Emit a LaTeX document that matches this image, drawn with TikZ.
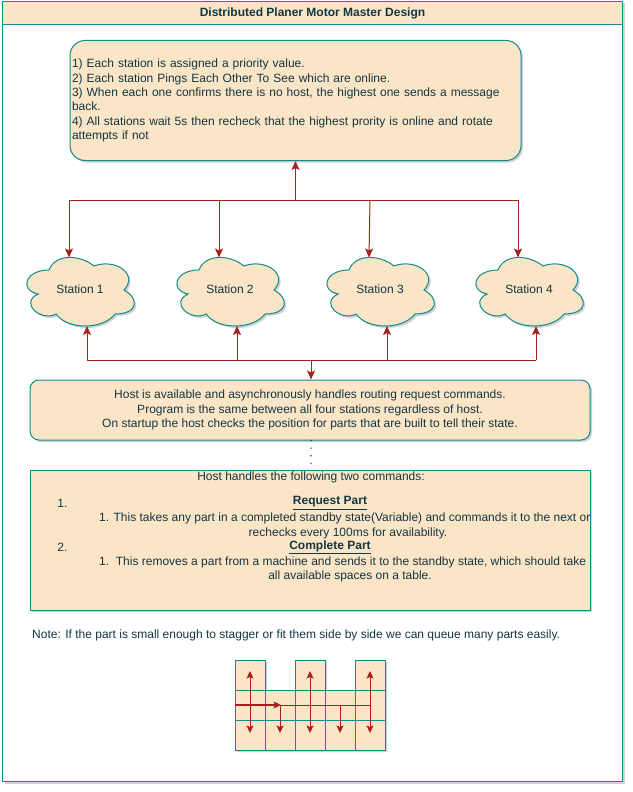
\documentclass[tikz,border=0pt]{standalone}
\usepackage{fontspec}
\setmainfont{Liberation Sans}
\usetikzlibrary{arrows.meta,shadows}
\definecolor{fillc}{HTML}{FAE5C7}
\definecolor{strokec}{HTML}{0F8B8D}
\definecolor{arrc}{HTML}{A8201A}
\definecolor{fontc}{HTML}{143642}
\tikzset{
  shad/.style={drop shadow={shadow xshift=2pt,shadow yshift=-2pt,opacity=0.18,fill=black}},
  box/.style={draw=strokec,fill=fillc,line width=1pt,inner sep=0pt,text=fontc,font=\fontsize{12}{14.4}\selectfont},
  txt/.style={text=fontc,font=\fontsize{12}{14.4}\selectfont,inner sep=0pt},
  bigtip/.tip={Stealth[length=9pt,width=8pt,inset=2pt]},
  smalltip/.tip={Stealth[length=7.5pt,width=7pt,inset=1.5pt]},
  arr/.style={draw=arrc,line width=1pt,-bigtip},
  ln/.style={draw=arrc,line width=1pt},
  garr/.style={draw=arrc,line width=0.8pt,-smalltip},
  gdarr/.style={draw=arrc,line width=0.8pt,smalltip-smalltip},
  gln/.style={draw=arrc,line width=0.8pt},
  cell/.style={draw=strokec,fill=fillc,line width=1pt,minimum size=30pt,inner sep=0pt},
  cloudst/.style={draw=strokec,fill=fillc,line width=1pt,shad},
}
\newcommand\stationcloud[4]{%
  \begin{scope}[shift={(#1,#2)}]
    \path[cloudst] (30,20) .. controls (6,20) and (0,40) .. (19.2,44)
      .. controls (0,52.8) and (21.6,72) .. (37.2,64)
      .. controls (48,80) and (84,80) .. (96,64)
      .. controls (120,64) and (120,48) .. (105,40)
      .. controls (120,24) and (96,8) .. (75,16)
      .. controls (60,4) and (36,4) .. (30,20) -- cycle;
    \node[txt] (#3) at (61,39.5) {#4};
    \coordinate (#3in) at (50,7.5);
    \coordinate (#3out) at (68,76);
  \end{scope}}
\begin{document}
\begin{tikzpicture}[x=1pt,y=-1pt]
\useasboundingbox (0,0) rectangle (632,792);
% frame and title
\node[box,shad,fill=white,minimum width=620pt,minimum height=780pt,anchor=north west] (frame) at (2,1) {};
\node[box,minimum width=620pt,minimum height=23pt,anchor=north west,font=\bfseries\fontsize{12}{14.4}\selectfont] (title) at (2,1) {Distributed Planer Motor Master Design};
% top box
\node[box,shad,rounded corners=15pt,text width=447pt,inner xsep=2pt,align=left,minimum height=120pt] (top) at (295.5,100.5)
 {1) Each station is assigned a priority value.\\
  2) Each station Pings Each Other To See which are online.\\
  3) When each one confirms there is no host, the highest one sends a message\\
  back.\\
  4) All stations wait 5s then recheck that the highest prority is online and rotate\\
  attempts if not};
% clouds
\stationcloud{19}{250}{c1}{Station 1}
\stationcloud{169}{250}{c2}{Station 2}
\stationcloud{319}{250}{c3}{Station 3}
\stationcloud{468}{250}{c4}{Station 4}
% top bus
\coordinate (tb) at (295.5,200);
\coordinate (tb1) at (69,200);
\coordinate (tb2) at (219,200);
\coordinate (tb3) at (370,200);
\coordinate (tb4) at (518,200);
\draw[ln] (tb1) -- (tb4);
\draw[arr] (tb) -- (top.south);
\draw[arr] (tb1) -- (c1in);
\draw[arr] (tb2) -- (c2in);
\draw[arr] (tb3) -- (c3in);
\draw[arr] (tb4) -- (c4in);
% host box
\node[box,shad,rounded corners=9pt,minimum width=560pt,minimum height=60pt,align=center] (host) at (310,410)
 {Host is available and asynchronously handles routing request commands.\\
  Program is the same between all four stations regardless of host.\\
  On startup the host checks the position for parts that are built to tell their state.};
% bottom bus
\coordinate (hb) at (311,360);
\coordinate (bb1) at (87,360);
\coordinate (bb2) at (237,360);
\coordinate (bb3) at (387,360);
\coordinate (bb4) at (536,360);
\draw[ln] (bb1) -- (bb4);
\draw[arr] (hb) -- (hb |- host.north);
\draw[arr] (bb1) -- (c1out);
\draw[arr] (bb2) -- (c2out);
\draw[arr] (bb3) -- (c3out);
\draw[arr] (bb4) -- (c4out);
% commands box
\node[box,shad,minimum width=560pt,minimum height=140pt] (cmd) at (310,540) {};
\draw[arrc,line width=1.6pt,dash pattern=on 0pt off 7.6pt,line cap=round] (host.south -| hb) -- (cmd.north -| hb);
\node[txt] (cmdt) at (311,477.5) {Host handles the following two commands:};
\node[txt] (n1) at (62.5,503) {1.};
\node[txt] (rp) at (330,503) {\underline{\textbf{Request Part}}};
\node[txt,anchor=west] (rp1) at (99,518.5) {1. This takes any part in a completed standby state(Variable) and commands it to the next or};
\node[txt] (rp2) at (348,533) {rechecks every 100ms for availability.};
\node[txt] (n2) at (62.5,547.5) {2.};
\node[txt] (cp) at (330,547.5) {\underline{\textbf{Complete Part}}};
\node[txt,anchor=west] (cp1) at (99,562) {1.\ \ This removes a part from a machine and sends it to the standby state, which should take};
\node[txt] (cp2) at (350,576.5) {all available spaces on a table.};
% note
\node[txt,anchor=west] (note) at (32,635) {Note: If the part is small enough to stagger or fit them side by side we can queue many parts easily.};
% grid shadow
\path[fill=fillc,shad] (235,660) -- (265,660) -- (265,690) -- (295,690) -- (295,660) -- (325,660) -- (325,690)
  -- (355,690) -- (355,660) -- (385,660) -- (385,750) -- (235,750) -- cycle;
% grid cells
\node[cell] (g11) at (250,675) {};
\node[cell] (g13) at (310,675) {};
\node[cell] (g15) at (370,675) {};
\foreach \c in {1,...,5}{
  \node[cell] (g2\c) at (220+30*\c,705) {};
  \node[cell] (g3\c) at (220+30*\c,735) {};
}
\coordinate (v1t) at (250,671);
\coordinate (v1b) at (250,733);
\coordinate (v3t) at (310,671);
\coordinate (v3b) at (310,733);
\coordinate (v5t) at (370,671);
\coordinate (v5b) at (370,733);
\coordinate (hs) at (235,705);
\coordinate (hm) at (281,705);
\coordinate (he) at (370,705);
\coordinate (d2t) at (280,705);
\coordinate (d2b) at (280,733);
\coordinate (d4t) at (340,705);
\coordinate (d4b) at (340,733);
\draw[gdarr] (v1t) -- (v1b);
\draw[gdarr] (v3t) -- (v3b);
\draw[gdarr] (v5t) -- (v5b);
\draw[gln] (hm) -- (he);
\draw[garr] (d2t) -- (d2b);
\draw[garr] (d4t) -- (d4b);
\draw[garr,line width=1.1pt] (hs) -- (hm);
\end{tikzpicture}
\end{document}
